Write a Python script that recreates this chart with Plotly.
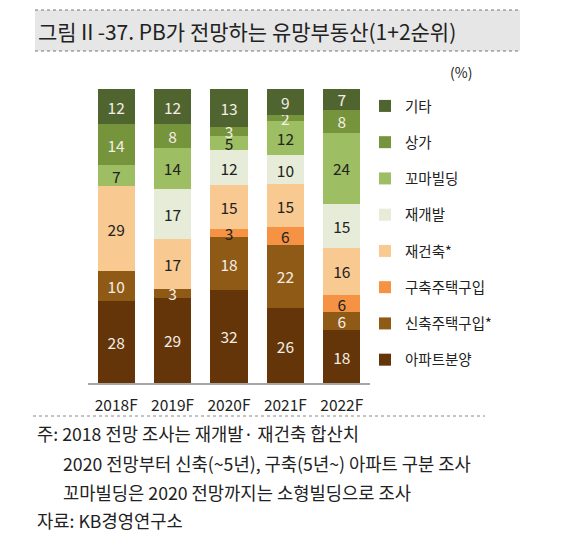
import plotly.graph_objects as go

years = ["2018F", "2019F", "2020F", "2021F", "2022F"]
series_names = ["아파트분양", "신축주택구입*", "구축주택구입", "재건축*", "재개발", "꼬마빌딩", "상가", "기타"]
apt_sale = [28, 29, 32, 26, 18]
new_house = [10, 3, 18, 22, 6]
old_house = [None, None, 3, 6, 6]
rebuild = [29, 17, 15, 15, 16]
redevelop = [None, 17, 12, 10, 15]
small_bldg = [7, 14, 5, 12, 24]
shops = [14, 8, 3, 2, 8]
others = [12, 12, 13, 9, 7]
values = [apt_sale, new_house, old_house, rebuild, redevelop, small_bldg, shops, others]

colors = ["#633509", "#8F5A16", "#F59244", "#F8C991", "#E6ECD8", "#9DBE63", "#76943B", "#506430"]
text_colors = ["#F4EEE6", "#F4EEE6", "#222222", "#222222", "#222222", "#222222", "#F4EEE6", "#F4EEE6"]

FONT = "Noto Sans CJK KR"
W, H = 562, 538
PX0, PX1, PY0, PY1 = 88, 370, 89, 383
L, R, T, B = PX0, W - PX1, PY0, H - PY1

fig = go.Figure()
n = len(series_names)
for i, (name, vals) in enumerate(zip(series_names, values)):
    fig.add_trace(go.Bar(
        x=years, y=vals, name=name,
        marker=dict(color=colors[i], line=dict(width=0)),
        text=["" if v is None else str(v) for v in vals],
        textposition="inside", insidetextanchor="middle", textangle=0,
        textfont=dict(family=FONT, size=15.5, color=text_colors[i]),
        width=0.66, legendgroup=f"g{i}", legendrank=100 + (n - i),
        hoverinfo="x+y+name",
    ))

def px_x(x):
    return (x - PX0) / (PX1 - PX0)

def px_y(y):
    return (PY1 - y) / (PY1 - PY0)

shapes = [
    dict(type="rect", xref="paper", yref="paper", x0=px_x(35), x1=px_x(520), y0=px_y(51), y1=px_y(10),
         fillcolor="#E6E6E6", line=dict(width=0), layer="below"),
    dict(type="line", xref="paper", yref="paper", x0=px_x(35), x1=px_x(520), y0=px_y(10), y1=px_y(10),
         line=dict(color="#777777", width=1, dash="dot")),
    dict(type="line", xref="paper", yref="paper", x0=px_x(35), x1=px_x(520), y0=px_y(51), y1=px_y(51),
         line=dict(color="#777777", width=1, dash="dot")),
    dict(type="line", xref="paper", yref="paper", x0=px_x(33), x1=px_x(485), y0=px_y(416), y1=px_y(416),
         line=dict(color="#888888", width=1, dash="dot")),
]

note_font = dict(family=FONT, size=17.7, color="#222222")
annotations = [
    dict(text="그림Ⅱ-37. PB가 전망하는 유망부동산(1+2순위)", xref="paper", yref="paper",
         x=px_x(36), y=px_y(31), xanchor="left", yanchor="middle", showarrow=False,
         font=dict(family=FONT, size=21, color="#222222")),
    dict(text="(%)", xref="paper", yref="paper", x=px_x(461), y=px_y(72), xanchor="center", yanchor="middle",
         showarrow=False, font=dict(family=FONT, size=14, color="#222222")),
    dict(text="주: 2018 전망 조사는 재개발· 재건축 합산치", xref="paper", yref="paper",
         x=px_x(35), y=px_y(433), xanchor="left", yanchor="middle", showarrow=False, font=note_font),
    dict(text="2020 전망부터 신축(~5년), 구축(5년~) 아파트 구분 조사", xref="paper", yref="paper",
         x=px_x(61), y=px_y(463), xanchor="left", yanchor="middle", showarrow=False, font=note_font),
    dict(text="꼬마빌딩은 2020 전망까지는 소형빌딩으로 조사", xref="paper", yref="paper",
         x=px_x(61), y=px_y(492), xanchor="left", yanchor="middle", showarrow=False, font=note_font),
    dict(text="자료: KB경영연구소", xref="paper", yref="paper",
         x=px_x(35), y=px_y(520), xanchor="left", yanchor="middle", showarrow=False, font=note_font),
]

fig.update_layout(
    width=W, height=H,
    margin=dict(l=L, r=R, t=T, b=B, pad=0),
    barmode="stack", barnorm="percent",
    paper_bgcolor="white", plot_bgcolor="white",
    font=dict(family=FONT, color="#222222"),
    uniformtext=dict(minsize=15.5, mode="show"),
    showlegend=True,
    legend=dict(
        traceorder="grouped", orientation="v",
        x=px_x(365), y=px_y(90), xanchor="left", yanchor="top",
        xref="paper", yref="paper",
        font=dict(family=FONT, size=14.5, color="#222222"),
        tracegroupgap=14.4, itemwidth=30, bgcolor="rgba(0,0,0,0)",
        itemclick=False, itemdoubleclick=False,
    ),
    shapes=shapes, annotations=annotations,
    xaxis=dict(showgrid=False, showline=True, linecolor="#A6A6A6", linewidth=1.5,
               ticks="", tickfont=dict(family=FONT, size=15.5, color="#222222"),
               ticklabelstandoff=8,
               range=[-0.5, 4.5], fixedrange=True),
    yaxis=dict(visible=False, range=[0, 100], fixedrange=True),
)

fig.write_html("out.html", post_script="document.body.style.margin='0';",
               config={"displayModeBar": False})
